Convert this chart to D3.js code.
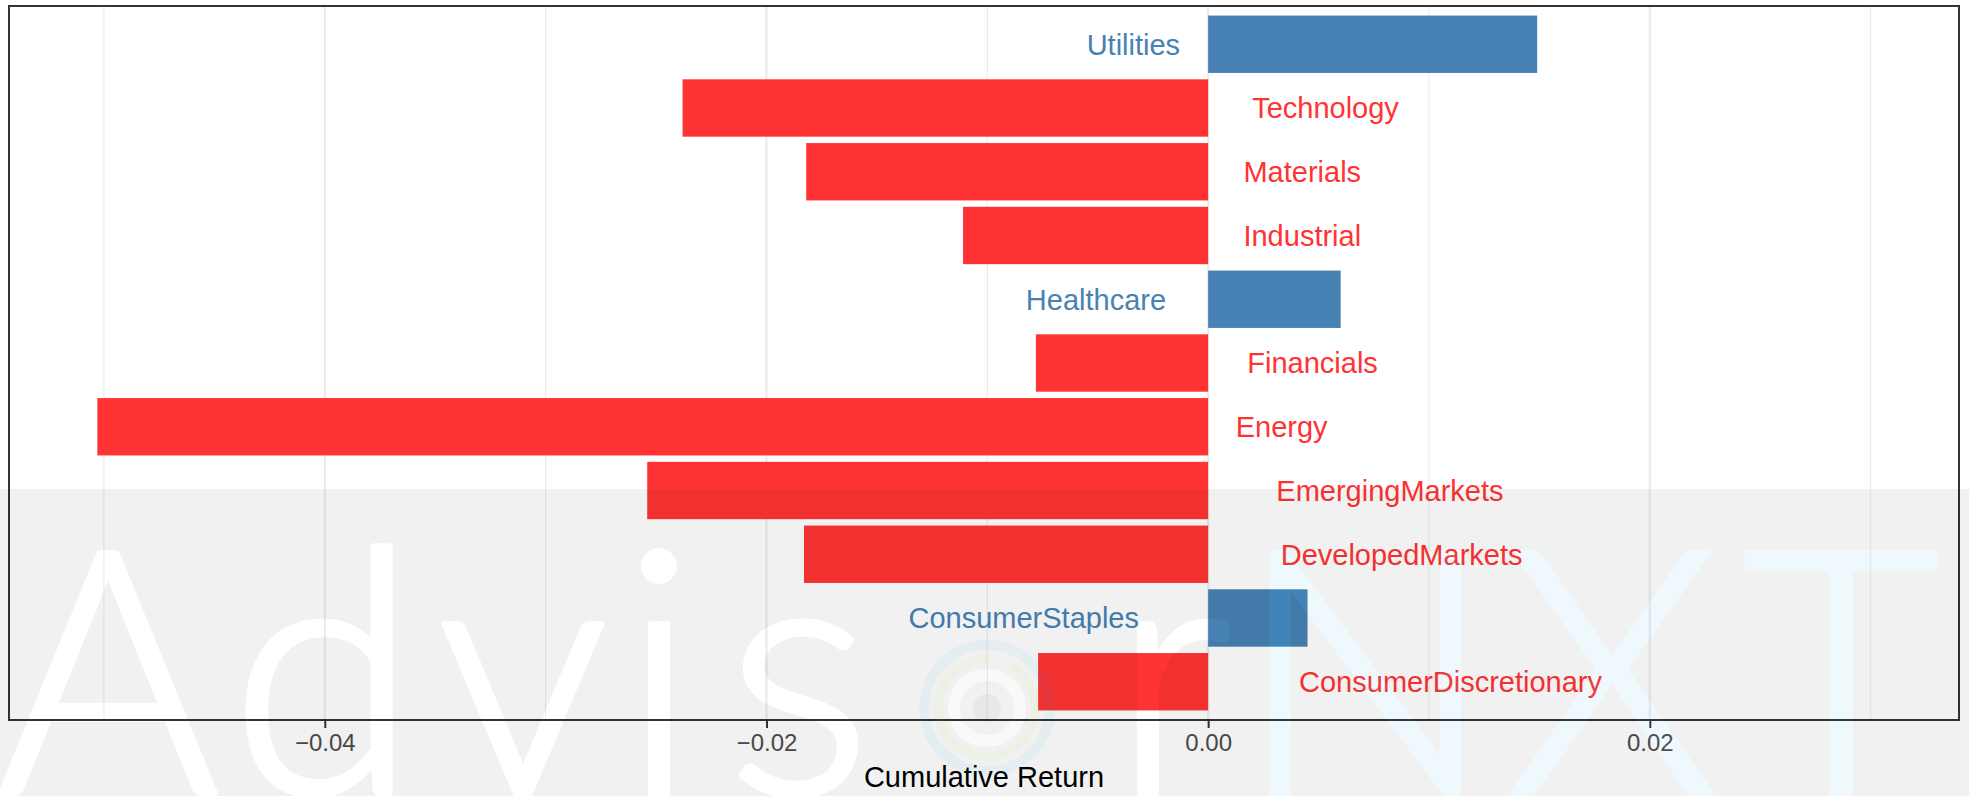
<!DOCTYPE html>
<html>
<head>
<meta charset="utf-8">
<script src="https://cdn.jsdelivr.net/npm/d3@7"></script>
<style>
  body { margin: 0; background: #fff; }
  svg { display: block; font-family: "Liberation Sans", Arial, sans-serif; }
</style>
</head>
<body>
<div class="chart"></div>
<script>
// sectors, top to bottom
const sectors = ["Utilities", "Technology", "Materials", "Industrial", "Healthcare", "Financials",
    "Energy", "EmergingMarkets", "DevelopedMarkets", "ConsumerStaples", "ConsumerDiscretionary"];
const cumReturns = [0.0149, -0.0238, -0.0182, -0.0111, 0.0060, -0.0078,
    -0.0503, -0.0254, -0.0183, 0.0045, -0.0077];
const xTicks = [-0.04, -0.02, 0.00, 0.02];
const xMinorTicks = [-0.05, -0.03, -0.01, 0.01, 0.03];
const xLimits = [-0.0543, 0.0340];
const axisTitle = "Cumulative Return";

const width = 1969, height = 796;
const panel = {left: 9, top: 6, right: 1959, bottom: 720};
const colorUp = "#4682B4", colorDown = "#FF3333";

let svg = d3.select(".chart").append("svg")
    .attr("width", width)
    .attr("height", height);

let x = d3.scaleLinear().domain(xLimits).range([panel.left, panel.right]),
    y = d3.scaleBand().domain(sectors).range([panel.top, panel.bottom])
        .paddingInner(0.1).paddingOuter(0.15);

let data = sectors.map(function (s, i) {
    return {sector: s, value: cumReturns[i]};
});

// grid
let grid = svg.append("g");
grid.selectAll(".minor")
    .data(xMinorTicks)
    .enter().append("line")
    .attr("x1", d => x(d)).attr("x2", d => x(d))
    .attr("y1", panel.top).attr("y2", panel.bottom)
    .attr("stroke", "#ebebeb").attr("stroke-width", 1.1);
grid.selectAll(".major")
    .data(xTicks)
    .enter().append("line")
    .attr("x1", d => x(d)).attr("x2", d => x(d))
    .attr("y1", panel.top).attr("y2", panel.bottom)
    .attr("stroke", "#ebebeb").attr("stroke-width", 2.2);

// bars
svg.append("g").selectAll("rect")
    .data(data)
    .enter().append("rect")
    .attr("x", d => x(Math.min(0, d.value)))
    .attr("width", d => Math.abs(x(d.value) - x(0)))
    .attr("y", d => y(d.sector))
    .attr("height", y.bandwidth())
    .attr("fill", d => d.value >= 0 ? colorUp : colorDown);

// labels on the opposite side of zero
const labelSize = 29;
svg.append("g").selectAll("text")
    .data(data)
    .enter().append("text")
    .style("font-size", labelSize + "px")
    .attr("fill", d => d.value >= 0 ? colorUp : colorDown)
    .attr("y", d => y(d.sector) + y.bandwidth() / 2 + labelSize * 0.358)
    .text(d => d.sector)
    .each(function (d) {
        let len = this.getComputedTextLength();
        if (d.value >= 0) {
            d3.select(this).attr("text-anchor", "end").attr("x", x(0) - 0.3 * len);
        } else {
            d3.select(this).attr("text-anchor", "start").attr("x", x(0) + 0.3 * len);
        }
    });

// panel border
svg.append("rect")
    .attr("x", panel.left).attr("y", panel.top)
    .attr("width", panel.right - panel.left)
    .attr("height", panel.bottom - panel.top)
    .attr("fill", "none")
    .attr("stroke", "#333333")
    .attr("stroke-width", 2);

// x axis
let xAxis = svg.append("g")
    .attr("transform", "translate(0," + (panel.bottom + 1) + ")")
    .call(d3.axisBottom(x).tickValues(xTicks).tickFormat(d3.format(".2f")).tickSize(7).tickPadding(6));
xAxis.select(".domain").remove();
xAxis.selectAll(".tick line").attr("stroke", "#333333").attr("stroke-width", 2);
xAxis.selectAll(".tick text")
    .attr("fill", "#4d4d4d")
    .style("font-size", "24px")
    .style("font-family", "\"Liberation Sans\", Arial, sans-serif");

svg.append("text")
    .attr("x", (panel.left + panel.right) / 2)
    .attr("y", 787)
    .attr("text-anchor", "middle")
    .style("font-size", "29px")
    .attr("fill", "#000")
    .text(axisTitle);

// watermark: grey band with the lettering cut out of it
const wmTop = 489, wmBaseline = 793, wmSize = 339, wmStroke = 6;
const wmLetters = [
    {ch: "A", cx: 108, hole: true}, {ch: "d", cx: 324, hole: true}, {ch: "v", cx: 523, hole: true},
    {ch: "i", cx: 659, hole: true}, {ch: "s", cx: 799, hole: true}, {ch: "r", cx: 1172, hole: true},
    {ch: "N", cx: 1365, hole: false}, {ch: "X", cx: 1612, hole: false}, {ch: "T", cx: 1841, hole: false}
];
const logo = {cx: 987, cy: 708};

function wmText(sel) {
    sel.attr("x", d => d.cx)
        .attr("y", wmBaseline)
        .attr("text-anchor", "middle")
        .style("font-family", "Lato, \"Open Sans\", sans-serif")
        .style("font-weight", 300)
        .style("font-size", wmSize + "px")
        .attr("stroke-width", wmStroke)
        .attr("stroke-linejoin", "round")
        .text(d => d.ch);
}

let defs = svg.append("defs");
let mask = defs.append("mask").attr("id", "wm-mask")
    .attr("maskUnits", "userSpaceOnUse")
    .attr("x", 0).attr("y", 0).attr("width", width).attr("height", height);
mask.append("rect").attr("width", width).attr("height", height).attr("fill", "#fff");
mask.selectAll("text")
    .data(wmLetters)
    .enter().append("text")
    .call(wmText)
    .attr("fill", "#000")
    .attr("stroke", "#000");
mask.append("circle").attr("cx", logo.cx).attr("cy", logo.cy).attr("r", 33)
    .attr("fill", "none").attr("stroke", "#000").attr("stroke-opacity", 0.6).attr("stroke-width", 12);

let wm = svg.append("g");
wm.append("rect")
    .attr("x", 0).attr("y", wmTop)
    .attr("width", width).attr("height", height - wmTop)
    .attr("fill", "#000").attr("fill-opacity", 0.055)
    .attr("mask", "url(#wm-mask)");

wm.append("g")
    .attr("opacity", 0.06)
    .selectAll("text")
    .data(wmLetters.filter(d => !d.hole))
    .enter().append("text")
    .call(wmText)
    .attr("fill", "rgb(0,170,230)")
    .attr("stroke", "rgb(0,170,230)");

// the logo standing in for the "o"
wm.append("circle").attr("cx", logo.cx).attr("cy", logo.cy).attr("r", 63)
    .attr("fill", "none").attr("stroke", "rgb(0,170,230)").attr("stroke-opacity", 0.05).attr("stroke-width", 10);
wm.append("path")
    .attr("transform", "translate(" + logo.cx + "," + logo.cy + ")")
    .attr("d", d3.arc().innerRadius(44).outerRadius(53).startAngle(0.5).endAngle(2 * Math.PI))
    .attr("fill", "rgb(190,230,40)").attr("fill-opacity", 0.06);
wm.append("circle").attr("cx", logo.cx).attr("cy", logo.cy).attr("r", 14)
    .attr("fill", "#000").attr("fill-opacity", 0.035);
</script>
</body>
</html>
